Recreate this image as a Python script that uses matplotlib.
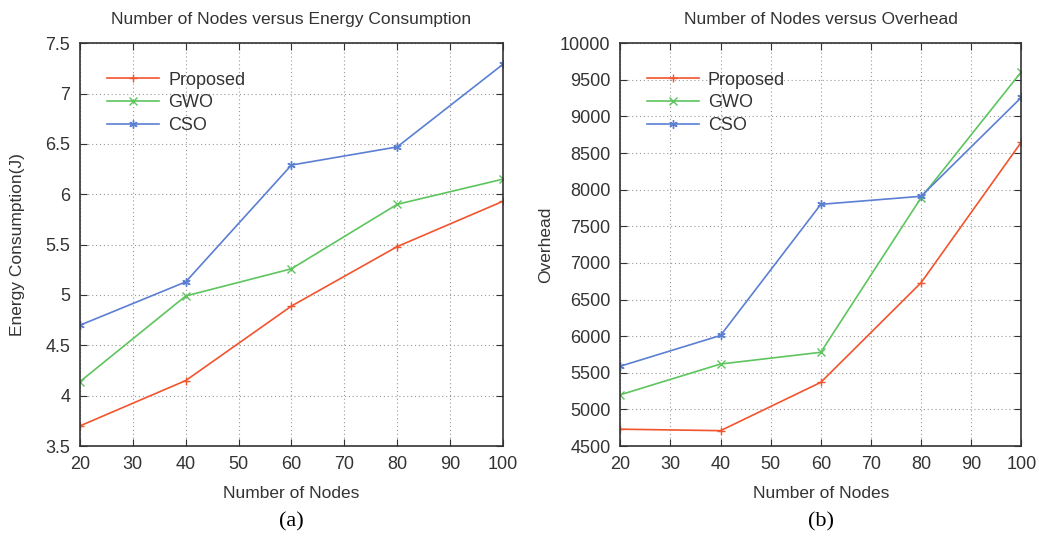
import matplotlib.pyplot as plt

nodes = [20, 40, 60, 80, 100]

# (a) energy consumption
energy_proposed = [3.70, 4.15, 4.89, 5.48, 5.93]
energy_gwo = [4.14, 4.99, 5.26, 5.90, 6.15]
energy_cso = [4.70, 5.13, 6.29, 6.47, 7.29]

# (b) overhead
overhead_proposed = [4730, 4710, 5370, 6730, 8650]
overhead_gwo = [5200, 5620, 5780, 7890, 9610]
overhead_cso = [5590, 6010, 7800, 7910, 9260]

labels = ['Proposed', 'GWO', 'CSO']
colors = ['#f2542d', '#5dc55d', '#5b7fd3']
markers = ['+', 'x', (6, 2, 0)]

plt.rcParams['font.family'] = ['Liberation Sans', 'DejaVu Sans']
plt.rcParams['text.color'] = '#333333'
plt.rcParams['axes.labelcolor'] = '#333333'
plt.rcParams['xtick.color'] = '#333333'
plt.rcParams['ytick.color'] = '#333333'

fig = plt.figure(figsize=(10.39, 5.40), dpi=100)
ax1 = fig.add_axes([0.077, 0.174, 0.407, 0.746])
ax2 = fig.add_axes([0.597, 0.174, 0.386, 0.746])


def style(ax, ylab_x):
    ax.grid(True, color='#999999', linestyle=(0, (1, 2.5)), linewidth=0.8)
    ax.tick_params(direction='in', top=True, right=True, length=5, labelsize=13, pad=7)
    for s in ax.spines.values():
        s.set_color('#333333')
        s.set_linewidth(1.2)
    ax.set_xlim(20, 100)
    ax.set_xticks(range(20, 101, 10))
    ax.set_xlabel('Number of Nodes', fontsize=12.5, va='center')
    ax.xaxis.set_label_coords(0.5, -0.117)
    ax.yaxis.label.set_va('center')
    ax.yaxis.set_label_coords(ylab_x, 0.5)
    ax.legend(loc='upper left', bbox_to_anchor=(0.025, 0.97), frameon=False,
              fontsize=13, handlelength=2.9, labelspacing=0.33, handletextpad=0.5)


for ys, c, m, lab in zip([energy_proposed, energy_gwo, energy_cso], colors, markers, labels):
    ax1.plot(nodes, ys, color=c, marker=m, markersize=6, linewidth=1.2, label=lab)
ax1.set_ylim(3.5, 7.5)
ax1.set_yticks([3.5, 4, 4.5, 5, 5.5, 6, 6.5, 7, 7.5])
ax1.set_yticklabels(['3.5', '4', '4.5', '5', '5.5', '6', '6.5', '7', '7.5'])
ax1.set_ylabel('Energy Consumption(J)', fontsize=12.5)
ax1.set_title('Number of Nodes versus Energy Consumption', fontsize=12.5, pad=14)
style(ax1, -0.147)

for ys, c, m, lab in zip([overhead_proposed, overhead_gwo, overhead_cso], colors, markers, labels):
    ax2.plot(nodes, ys, color=c, marker=m, markersize=6, linewidth=1.2, label=lab)
ax2.set_ylim(4500, 10000)
ax2.set_yticks(range(4500, 10001, 500))
ax2.set_ylabel('Overhead', fontsize=12.5)
ax2.set_title('Number of Nodes versus Overhead', fontsize=12.5, pad=14)
style(ax2, -0.187)

fig.text(0.2805, 0.033, '(a)', ha='center', va='center', fontsize=16,
         family=['Liberation Serif', 'DejaVu Serif'], color='black')
fig.text(0.79, 0.033, '(b)', ha='center', va='center', fontsize=16,
         family=['Liberation Serif', 'DejaVu Serif'], color='black')

fig.savefig('out.png', dpi=100)
